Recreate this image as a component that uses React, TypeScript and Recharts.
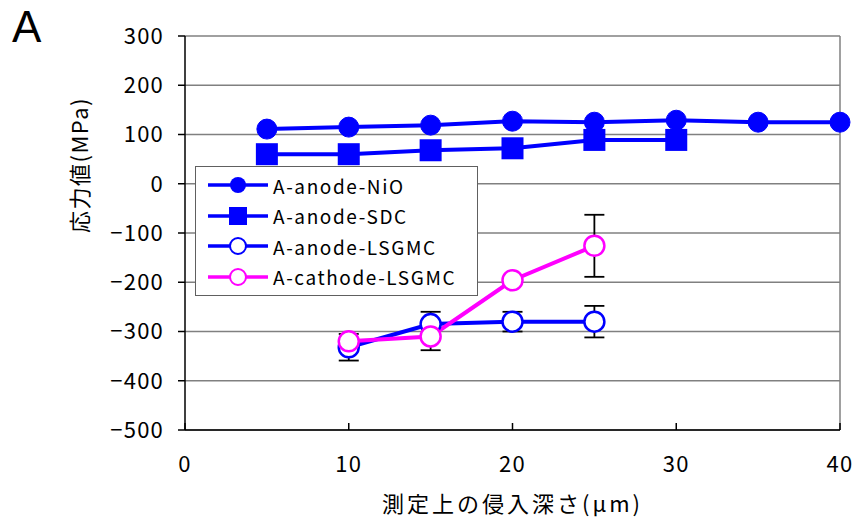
import React from 'react';
import { LineChart, Line, XAxis, YAxis, CartesianGrid, ReferenceLine, ErrorBar } from 'recharts';

// depth (µm) vs residual stress (MPa)
const depths = [5, 10, 15, 20, 25, 30, 35, 40];
const anodeNiO = [111, 115, 119, 127, 125, 129, 125, 125];
const anodeSDC = [60, 60, 68, 72, 89, 89, null, null];
const anodeLSGMC = [null, -332, -285, -280, -280, null, null, null];
const anodeLSGMCErr = [null, 27, 25, 20, 32, null, null, null];
const cathodeLSGMC = [null, -320, -310, -196, -126, null, null, null];
const cathodeLSGMCErr = [null, 5, 28, 5, 63, null, null, null];

const xTicks = [0, 10, 20, 30, 40];
const yTicks = [300, 200, 100, 0, -100, -200, -300, -400, -500];

const seriesNames = ['A-anode-NiO', 'A-anode-SDC', 'A-anode-LSGMC', 'A-cathode-LSGMC'];

const data = depths.map((d, i) => ({
    depth: d,
    nio: anodeNiO[i],
    sdc: anodeSDC[i],
    lsgmc: anodeLSGMC[i],
    lsgmcErr: anodeLSGMCErr[i],
    cath: cathodeLSGMC[i],
    cathErr: cathodeLSGMCErr[i],
}));

const BLUE = '#0000ff';
const MAGENTA = '#ff00ff';
const GRID = '#808080';
const FONT = '"Noto Sans CJK JP", "Noto Sans", sans-serif';

const fmt = (v: number) => (v < 0 ? '\u2212' + Math.abs(v) : String(v));

const SquareDot = (props: any) => {
    const { cx, cy, index } = props;
    if (cx == null || cy == null) return <g key={'sq' + index} />;
    return <rect key={'sq' + index} x={cx - 11} y={cy - 11} width={22} height={22} fill={BLUE} />;
};

const LegendBox = () => {
    const rows = [
        { name: seriesNames[0], color: BLUE, marker: 'fcircle' },
        { name: seriesNames[1], color: BLUE, marker: 'square' },
        { name: seriesNames[2], color: BLUE, marker: 'ocircle' },
        { name: seriesNames[3], color: MAGENTA, marker: 'ocircle' },
    ];
    return (
        <div
            style={{
                position: 'absolute',
                left: 195,
                top: 166,
                width: 283,
                height: 130,
                background: '#fff',
                border: '1.5px solid #606060',
                boxSizing: 'border-box',
                paddingTop: 3,
                fontFamily: FONT,
            }}
        >
            {rows.map((r) => (
                <div key={r.name} style={{ display: 'flex', alignItems: 'center', height: 30.5 }}>
                    <svg width={76} height={24} style={{ flex: 'none' }}>
                        <line x1={12} y1={12} x2={72} y2={12} stroke={r.color} strokeWidth={3.5} />
                        {r.marker === 'fcircle' && <circle cx={42} cy={12} r={8} fill={r.color} />}
                        {r.marker === 'square' && <rect x={33} y={3} width={18} height={18} fill={r.color} />}
                        {r.marker === 'ocircle' && (
                            <circle cx={42} cy={12} r={8} fill="#fff" stroke={r.color} strokeWidth={2} />
                        )}
                    </svg>
                    <span style={{ fontSize: 19, color: '#000', marginLeft: 1, letterSpacing: 1.6 }}>{r.name}</span>
                </div>
            ))}
        </div>
    );
};

const App: React.FC = () => {
    return (
        <div style={{ position: 'absolute', left: 0, top: 0, width: 856, height: 518, background: '#fff' }}>
            <LineChart
                width={856}
                height={518}
                data={data}
                margin={{ top: 36, right: 16, left: 0, bottom: 0 }}
                style={{ fontFamily: FONT }}
            >
                <CartesianGrid vertical={false} stroke={GRID} strokeWidth={1.5} />
                <ReferenceLine x={40} stroke={GRID} strokeWidth={1.5} />
                <XAxis
                    dataKey="depth"
                    type="number"
                    domain={[0, 40]}
                    ticks={xTicks}
                    height={88}
                    stroke="#000"
                    strokeWidth={1.5}
                    tickSize={-7}
                    tickMargin={33}
                    tick={{ fill: '#000', fontSize: 22, letterSpacing: 1.2 }}
                    label={{
                        value: '測定上の侵入深さ(μm)',
                        position: 'insideBottom',
                        offset: 6,
                        fill: '#000',
                        fontSize: 22,
                        letterSpacing: 3,
                    }}
                />
                <YAxis
                    type="number"
                    domain={[-500, 300]}
                    ticks={yTicks}
                    width={185}
                    stroke="#000"
                    strokeWidth={1.5}
                    tickSize={7}
                    tickMargin={14}
                    tickFormatter={fmt}
                    tick={{ fill: '#000', fontSize: 22, letterSpacing: 1.2 }}
                    label={{
                        value: '応力値(MPa)',
                        angle: -90,
                        position: 'insideLeft',
                        offset: 0,
                        dx: 80,
                        fill: '#000',
                        fontSize: 22,
                        letterSpacing: 1.5,
                    }}
                />
                <Line
                    dataKey="nio"
                    stroke={BLUE}
                    strokeWidth={4}
                    dot={{ r: 10, fill: BLUE, stroke: BLUE, strokeWidth: 1 }}
                    isAnimationActive={false}
                />
                <Line
                    dataKey="sdc"
                    stroke={BLUE}
                    strokeWidth={4}
                    dot={SquareDot}
                    isAnimationActive={false}
                />
                <Line
                    dataKey="lsgmc"
                    stroke={BLUE}
                    strokeWidth={4}
                    dot={{ r: 10, fill: '#fff', stroke: BLUE, strokeWidth: 2.5 }}
                    isAnimationActive={false}
                >
                    <ErrorBar dataKey="lsgmcErr" width={10} stroke="#000" strokeWidth={1.8} />
                </Line>
                <Line
                    dataKey="cath"
                    stroke={MAGENTA}
                    strokeWidth={4}
                    dot={{ r: 10, fill: '#fff', stroke: MAGENTA, strokeWidth: 2.5 }}
                    isAnimationActive={false}
                >
                    <ErrorBar dataKey="cathErr" width={10} stroke="#000" strokeWidth={1.8} />
                </Line>
            </LineChart>
            <LegendBox />
            <div
                style={{
                    position: 'absolute',
                    left: 12,
                    top: 2,
                    fontSize: 44,
                    fontFamily: '"Liberation Sans", Arial, sans-serif',
                    color: '#000',
                }}
            >
                A
            </div>
        </div>
    );
};

export default App;
